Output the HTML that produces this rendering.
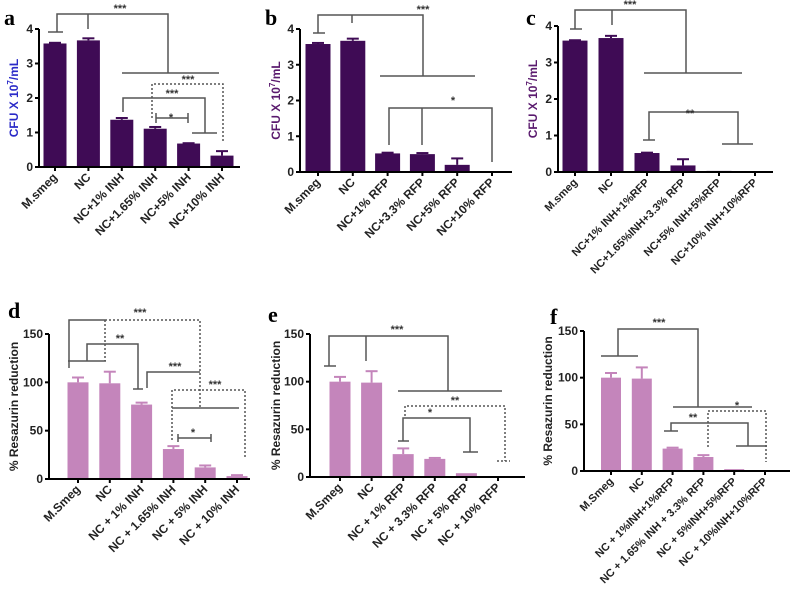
<!DOCTYPE html>
<html><head><meta charset="utf-8"><style>
html,body{margin:0;padding:0;background:#fff;}
svg{display:block;font-family:"Liberation Sans",Arial,sans-serif;}
</style></head><body>
<svg id="fig" width="793" height="595" viewBox="0 0 793 595"></svg>
<script>
// ---- data ----
const catsA = ["M.smeg","NC","NC+1% INH","NC+1.65% INH","NC+5% INH","NC+10% INH"];
const valsA = [3.58,3.67,1.37,1.11,0.68,0.33];
const errA  = [0.02,0.06,0.05,0.05,0.01,0.13];
const catsB = ["M.smeg","NC","NC+1% RFP","NC+3.3% RFP","NC+5% RFP","NC+10% RFP"];
const valsB = [3.58,3.67,0.52,0.50,0.20,0.02];
const errB  = [0.03,0.06,0.02,0.03,0.18,0];
const catsC = ["M.smeg","NC","NC+1% INH+1%RFP","NC+1.65%INH+3.3% RFP","NC+5% INH+5%RFP","NC+10% INH+10%RFP"];
const valsC = [3.60,3.67,0.52,0.18,0.03,0];
const errC  = [0.01,0.06,0.01,0.17,0,0];
const catsD = ["M.Smeg","NC","NC + 1% INH","NC + 1.65% INH","NC + 5% INH","NC + 10% INH"];
const valsD = [100,99,77,31,12,3];
const errD  = [5,12,2,3,2,1];
const catsE = ["M.Smeg","NC","NC + 1% RFP","NC + 3.3% RFP","NC + 5% RFP","NC + 10% RFP"];
const valsE = [100,99,24,19,4,0];
const errE  = [5,12,6,1,0,0];
const catsF = ["M.Smeg","NC","NC + 1%INH+1%RFP","NC + 1.65% INH + 3.3% RFP","NC + 5%INH+5%RFP","NC + 10%INH+10%RFP"];
const valsF = [100,99,24,15,2,0];
const errF  = [5,12,1,2,0,0];
const ticksCFU = [0,1,2,3,4];
const ticksRes = [0,50,100,150];

const NS="http://www.w3.org/2000/svg";
const svg=document.getElementById('fig');
function mk(tag,attrs,parent){const e=document.createElementNS(NS,tag);for(const k in attrs)e.setAttribute(k,attrs[k]);(parent||svg).appendChild(e);return e;}

function panel(p){
  const g=mk('g',{});
  
  
  const y=v=>p.y0-(v/p.ymax)*(p.y0-p.ytop);
  const x=i=>p.x0c+i*p.step;
  p.vals.forEach((v,i)=>{
    const cx=x(i);
    const r=mk('rect',{x:cx-p.bw/2,y:y(v),width:p.bw,height:Math.max(0,p.y0-y(v)),fill:p.color},g);
    
    
    const e=p.errs[i];
    if(e>0){
      mk('line',{x1:cx,x2:cx,y1:y(v),y2:y(v+e),stroke:p.color,'stroke-width':2},g);
      mk('line',{x1:cx-6,x2:cx+6,y1:y(v+e),y2:y(v+e),stroke:p.color,'stroke-width':2},g);
    }
  });
  const ax=mk('path',{d:`M${p.ax},${p.ytop} L${p.ax},${p.y0} L${p.xend},${p.y0}`,fill:'none',stroke:'#000','stroke-width':2},g);
  
  
  p.ticks.forEach(t=>{
    mk('line',{x1:p.ax-4,x2:p.ax,y1:y(t),y2:y(t),stroke:'#000','stroke-width':2},g);
    const tx=mk('text',{x:p.ax-6,y:y(t)+4,'text-anchor':'end','font-size':p.tfs,'font-weight':'bold',fill:'#222'},g);
    tx.textContent=t;
    
    
  });
  p.cats.forEach((c,i)=>{
    const cx=x(i);
    mk('line',{x1:cx,x2:cx,y1:p.y0,y2:p.y0+4,stroke:'#000','stroke-width':2},g);
    const tx=mk('text',{transform:`translate(${cx+3},${p.y0+11}) rotate(-45)`,'text-anchor':'end','font-size':p.xfs,'font-weight':'bold',fill:'#222'},g);
    tx.textContent=c;
    
    
  });
  const yt=mk('text',{transform:`translate(${p.ytx},${(p.ytop+p.y0)/2}) rotate(-90)`,'text-anchor':'middle','font-size':p.yfs,'font-weight':'bold',fill:p.ytcolor},g);
  yt.innerHTML=p.ytitle;
  
  
  const lb=mk('text',{x:p.lx,y:p.ly,'font-size':22,'font-weight':'bold','font-family':'"Liberation Serif",serif'},g);
  lb.textContent=p.id;
  
  
  const bg=mk('g',{stroke:'#555','stroke-width':1.5,fill:'none'},g);
  
  
  p.lines.forEach(l=>{
    const a={d:l[0]}; if(l[1]) a['stroke-dasharray']='2,2';
    mk('path',a,bg);
  });
  p.stars.forEach(s=>{
    const t=mk('text',{x:s[0],y:s[1],'text-anchor':'middle','font-size':11,'font-weight':'bold',fill:'#333'},g);
    t.textContent=s[2];
    
    
  });
}
const CFU='CFU X 10<tspan dy="-5" font-size="8">7</tspan><tspan dy="5">/mL</tspan>';
const RES='% Resazurin reduction';
const dark='#3f0b55', pink='#c485bb';

panel({id:'a',cats:catsA,vals:valsA,errs:errA,ticks:ticksCFU,ymax:4,y0:167,ytop:29,ax:39,xend:240,x0c:55,step:33.4,bw:23,color:dark,
 tfs:12,xfs:12,yfs:12,ytx:18,ytitle:CFU,ytcolor:'#2a2ac8',lx:4,ly:25,
 lines:[['M57,32 V14 H168 V73'],['M48,32 H63'],['M88,14 V29'],['M122,73 H219'],
  ['M152,118 V84 H223 V143',1],['M123,112 V98 H205 V133'],['M192,133 H217'],['M156,113 V123 M156,118 H188 M188,113 V123']],
 stars:[[120,12,'***'],[188,83,'***'],[172,97,'***'],[171,121,'*']]});
panel({id:'b',cats:catsB,vals:valsB,errs:errB,ticks:ticksCFU,ymax:4,y0:172,ytop:29,ax:300,xend:512,x0c:318,step:34.8,bw:25,color:dark,
 tfs:12,xfs:12,yfs:12,ytx:280,ytitle:CFU,ytcolor:'#5a1a6e',lx:265,ly:25,
 lines:[['M318,33 V15 H423 V76'],['M313,33 H325'],['M352,15 V23'],['M380,76 H475'],
  ['M389,145 V108 H492 V162'],['M422,108 V145']],
 stars:[[423,13,'***'],[453,104,'*']]});
panel({id:'c',cats:catsC,vals:valsC,errs:errC,ticks:ticksCFU,ymax:4,y0:172,ytop:26,ax:558,xend:773,x0c:575,step:36,bw:25,color:dark,
 tfs:12,xfs:11,yfs:12,ytx:537,ytitle:CFU,ytcolor:'#5a1a6e',lx:526,ly:25,
 lines:[['M575,29 V10 H686 V73'],['M570,29 H582'],['M612,10 V25'],['M644,73 H742'],
  ['M649,140 V112 H738 V144'],['M643,140 H655'],['M722,144 H753']],
 stars:[[630,8,'***'],[690,117,'**']]});
panel({id:'d',cats:catsD,vals:valsD,errs:errD,ticks:ticksRes,ymax:150,y0:479,ytop:334,ax:49,xend:250,x0c:78,step:31.8,bw:21,color:pink,
 tfs:12,xfs:12,yfs:12,ytx:18,ytitle:RES,ytcolor:'#222',lx:8,ly:318,
 lines:[['M69,368 V320 H105'],['M105,320 H200 V408',1],['M105,320 V361',1],['M68,361 H106'],
  ['M87,361 V344 H138 V389'],['M133,389 H143'],['M147,388 V372 H200'],
  ['M172,440 V390 H245 V458',1],['M172,408 H239'],['M178,434 V442 M178,438 H211 M211,434 V442']],
 stars:[[140,316,'***'],[120,342,'**'],[175,370,'***'],[215,388,'***'],[193,436,'*']]});
panel({id:'e',cats:catsE,vals:valsE,errs:errE,ticks:ticksRes,ymax:150,y0:477,ytop:334,ax:310,xend:525,x0c:340,step:31.6,bw:21,color:pink,
 tfs:12,xfs:12,yfs:12,ytx:280,ytitle:RES,ytcolor:'#222',lx:268,ly:322,
 lines:[['M329,366 V336 H448 V391'],['M324,366 H336'],['M366,336 V361'],['M398,391 H502'],
  ['M405,416 V406 H505 V461',1],['M497,461 H510',1],['M403,441 V418 H470 V452'],['M398,441 H409'],['M463,452 H478']],
 stars:[[397,333,'***'],[455,404,'**'],[430,416,'*']]});
panel({id:'f',cats:catsF,vals:valsF,errs:errF,ticks:ticksRes,ymax:150,y0:471,ytop:331,ax:584,xend:790,x0c:611,step:30.8,bw:20,color:pink,
 tfs:12,xfs:11,yfs:12,ytx:552,ytitle:RES,ytcolor:'#222',lx:550,ly:324,
 lines:[['M618,356 V329 H698 V407'],['M601,356 H638'],['M673,407 H752'],
  ['M708,447 V411 H766 V462',1],['M671,431 V423 H748 V446'],['M664,431 H678'],['M736,446 H767']],
 stars:[[659,326,'***'],[693,421,'**'],[737,409,'*']]});
</script>
</body></html>
